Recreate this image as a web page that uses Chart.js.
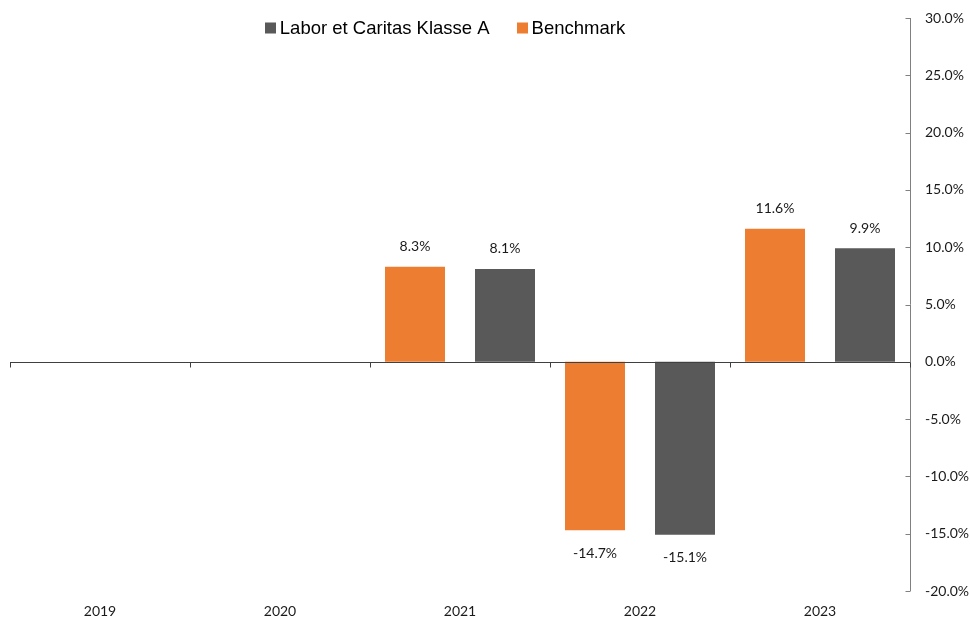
<!DOCTYPE html>
<html>
<head>
<meta charset="utf-8">
<title>Jahresrenditen</title>
<script src="https://cdn.jsdelivr.net/npm/chart.js@4/dist/chart.umd.min.js"></script>
<style>
  html, body { margin: 0; padding: 0; background: #ffffff; }
  #wrap { width: 970px; height: 620px; position: relative; }
</style>
</head>
<body>
<div id="wrap"><canvas id="chart" width="970" height="620"></canvas></div>
<script>
// Calendar years shown on the category axis
const years = ['2019', '2020', '2021', '2022', '2023'];
// Annual returns in percent (no data for the first two years)
const fundReturns = [null, null, 8.1, -15.1, 9.9];
const benchmarkReturns = [null, null, 8.3, -14.7, 11.6];
// Right-hand axis range and step (percent)
const axisMin = -20;
const axisMax = 30;
const axisStep = 5;

const fundName = 'Labor et Caritas Klasse A';
const benchName = 'Benchmark';
const orange = '#ED7D31';
const grey = '#595959';
const labelFont = '14px Lato, "Open Sans", sans-serif';

// Zero line with category separators, inward ticks on the value axis,
// value labels on every bar and the legend row at the top.
const decorations = {
  id: 'decorations',
  afterDatasetsDraw(chart) {
    const ctx = chart.ctx;
    const area = chart.chartArea;
    const x = chart.scales.x;
    const y = chart.scales.y;
    ctx.save();

    // value axis on the right
    ctx.strokeStyle = '#808080';
    ctx.lineWidth = 1;
    const ax = Math.round(area.right) + 0.5;
    ctx.beginPath();
    ctx.moveTo(ax, y.getPixelForValue(axisMax));
    ctx.lineTo(ax, y.getPixelForValue(axisMin));
    for (let v = axisMin; v <= axisMax; v += axisStep) {
      const py = Math.round(y.getPixelForValue(v)) + 0.5;
      ctx.moveTo(ax - 5, py);
      ctx.lineTo(ax, py);
    }
    ctx.stroke();

    // zero line with separators between years
    const zy = Math.round(y.getPixelForValue(0)) + 0.5;
    ctx.strokeStyle = '#404040';
    ctx.beginPath();
    ctx.moveTo(area.left, zy);
    ctx.lineTo(area.right, zy);
    const bounds = [area.left];
    for (let i = 0; i < years.length - 1; i++) {
      bounds.push((x.getPixelForValue(i) + x.getPixelForValue(i + 1)) / 2);
    }
    bounds.push(area.right);
    bounds.forEach(b => {
      const bx = Math.round(b) + 0.5;
      ctx.moveTo(bx, zy);
      ctx.lineTo(bx, zy + 5);
    });
    ctx.stroke();

    // value labels
    ctx.font = labelFont;
    ctx.fillStyle = '#1a1a1a';
    ctx.textAlign = 'center';
    ctx.textBaseline = 'middle';
    chart.data.datasets.forEach((ds, di) => {
      const meta = chart.getDatasetMeta(di);
      meta.data.forEach((bar, i) => {
        const v = ds.data[i];
        if (v === null || v === undefined) return;
        const ty = v >= 0 ? bar.y - 20 : bar.y + 23;
        ctx.fillText(v.toFixed(1) + '%', bar.x, ty);
      });
    });

    // legend (fund first, then benchmark)
    const items = [
      { text: fundName, color: grey },
      { text: benchName, color: orange }
    ];
    ctx.font = '18.5px "Liberation Sans", Arial, sans-serif';
    ctx.textAlign = 'left';
    ctx.fillStyle = '#000000';
    const box = 11, boxGap = 4, itemGap = 27;
    let total = 0;
    items.forEach((it, k) => {
      it.w = ctx.measureText(it.text).width;
      total += box + boxGap + it.w + (k ? itemGap : 0);
    });
    let lx = (area.left + area.right) / 2 - 15 - total / 2;
    const ly = 28;
    items.forEach(it => {
      ctx.fillStyle = it.color;
      ctx.fillRect(Math.round(lx), ly - box / 2, box, box);
      ctx.fillStyle = '#000000';
      ctx.fillText(it.text, lx + box + boxGap, ly + 1);
      lx += box + boxGap + it.w + itemGap;
    });

    ctx.restore();
  }
};

new Chart(document.getElementById('chart'), {
  type: 'bar',
  data: {
    labels: years,
    datasets: [
      {
        label: benchName,
        data: benchmarkReturns,
        backgroundColor: orange,
        borderWidth: 0,
        categoryPercentage: 1,
        barPercentage: 0.6667
      },
      {
        label: fundName,
        data: fundReturns,
        backgroundColor: grey,
        borderWidth: 0,
        categoryPercentage: 1,
        barPercentage: 0.6667
      }
    ]
  },
  options: {
    responsive: false,
    animation: false,
    layout: { padding: { top: 18, left: 10, right: 0, bottom: 0 } },
    plugins: {
      legend: { display: false },
      tooltip: { enabled: false }
    },
    scales: {
      x: {
        grid: { display: false, drawTicks: false },
        border: { display: false },
        ticks: {
          font: { family: 'Lato, "Open Sans", sans-serif', size: 14 },
          color: '#1a1a1a',
          padding: 12,
          maxRotation: 0
        },
        afterFit(scale) { scale.height = 29; }
      },
      y: {
        position: 'right',
        min: axisMin,
        max: axisMax,
        grid: { display: false, drawTicks: false },
        border: { display: false },
        ticks: {
          stepSize: axisStep,
          padding: 15,
          font: { family: 'Lato, "Open Sans", sans-serif', size: 14 },
          color: '#1a1a1a',
          callback: v => Number(v).toFixed(1) + '%'
        },
        afterFit(scale) {
          scale.width = 60;
          scale.paddingTop = 0;
          scale.paddingBottom = 0;
        }
      }
    }
  },
  plugins: [decorations]
});
</script>
</body>
</html>
